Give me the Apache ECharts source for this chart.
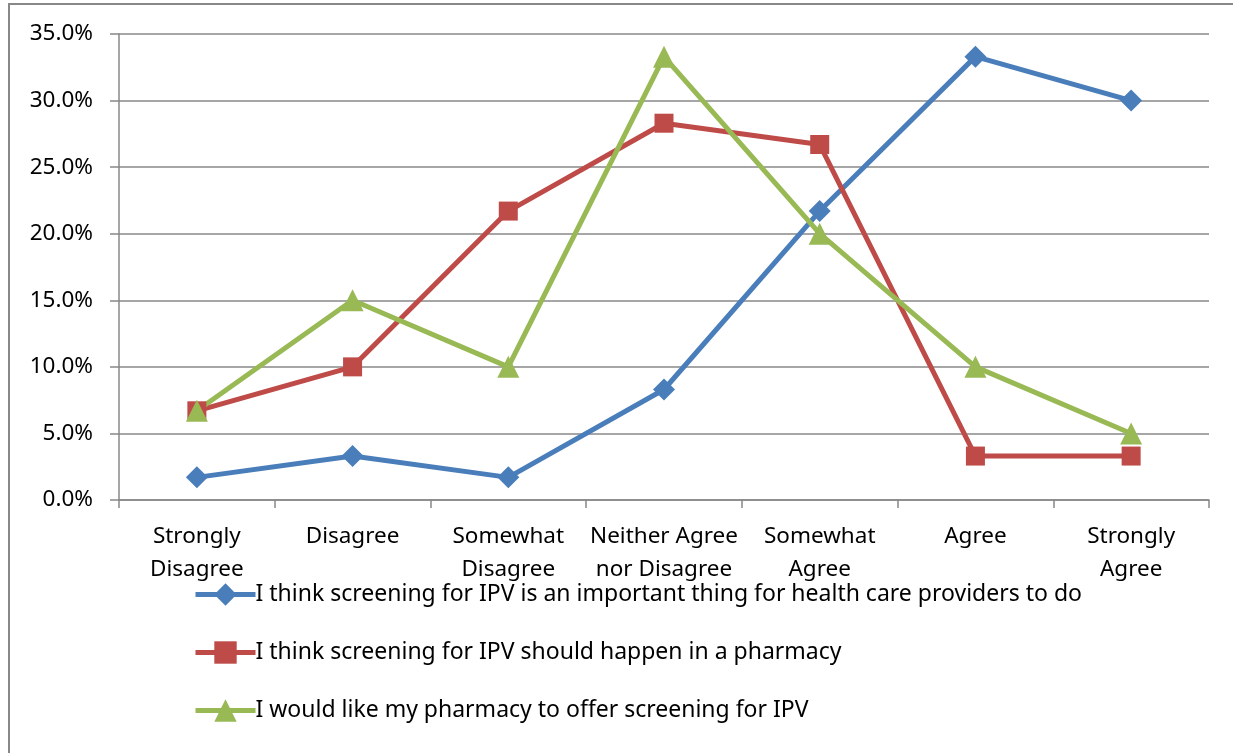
<!DOCTYPE html>
<html>
<head>
<meta charset="utf-8">
<script src="https://cdn.jsdelivr.net/npm/echarts@6/dist/echarts.min.js"></script>
<style>
  html, body { margin: 0; padding: 0; background: #fff; }
  #main { width: 1233px; height: 753px; }
</style>
</head>
<body>
<div id="main"></div>
<script>
// categories on the x axis
var categories = ['Strongly\nDisagree', 'Disagree', 'Somewhat\nDisagree', 'Neither Agree\nnor Disagree', 'Somewhat\nAgree', 'Agree', 'Strongly\nAgree']

// series names
var nameImportant = 'I think screening for IPV is an important thing for health care providers to do'
var namePharmacy = 'I think screening for IPV should happen in a pharmacy'
var nameOffer = 'I would like my pharmacy to offer screening for IPV'

// values in percent
var important = [1.7, 3.3, 1.7, 8.3, 21.7, 33.3, 30.0]
var pharmacy = [6.7, 10.0, 21.7, 28.3, 26.7, 3.3, 3.3]
var offer = [6.7, 15.0, 10.0, 33.3, 20.0, 10.0, 5.0]

var font = 'Noto Sans'
var chart = echarts.init(document.getElementById('main'))

function lineSeries(name, data, color, symbol, size) {
  return {
    name: name,
    type: 'line',
    data: data,
    symbol: symbol,
    symbolSize: size,
    lineStyle: { color: color, width: 5 },
    itemStyle: { color: color },
    animation: false
  }
}

var option = {
  textStyle: { fontFamily: font },
  graphic: [{
    type: 'rect',
    shape: { x: 9, y: 4, width: 1240, height: 760 },
    style: { fill: 'none', stroke: '#888', lineWidth: 2 },
    silent: true
  }],
  grid: { left: 119, right: 24, top: 34, bottom: 253 },
  legend: {
    orient: 'vertical',
    left: 188,
    top: 578,
    itemGap: 35,
    itemWidth: 60,
    itemHeight: 28,
    lineStyle: { width: 5 },
    textStyle: { fontSize: 23, color: '#000', fontFamily: font, padding: [0, 0, 0, -5] },
    data: [nameImportant, namePharmacy, nameOffer]
  },
  xAxis: {
    type: 'category',
    data: categories,
    boundaryGap: true,
    axisLine: { lineStyle: { color: '#888', width: 1.5 } },
    axisTick: { show: true, length: 8, lineStyle: { color: '#888', width: 1.5 } },
    axisLabel: { fontSize: 22.5, color: '#000', lineHeight: 33, margin: 20, interval: 0 }
  },
  yAxis: {
    type: 'value',
    min: 0,
    max: 35,
    interval: 5,
    axisLine: { show: true, lineStyle: { color: '#888', width: 1.5 } },
    axisTick: { show: true, length: 9, lineStyle: { color: '#888', width: 1.5 } },
    splitLine: { lineStyle: { color: '#888', width: 1.5 } },
    axisLabel: {
      fontSize: 22.5, color: '#000', margin: 26,
      formatter: function (v) { return v.toFixed(1) + '%' }
    }
  },
  series: [
    lineSeries(nameImportant, important, '#4a7ebb', 'diamond', 22),
    lineSeries(namePharmacy, pharmacy, '#be4b48', 'rect', 19),
    lineSeries(nameOffer, offer, '#98b954', 'triangle', 22)
  ]
}

chart.setOption(option)
</script>
</body>
</html>
